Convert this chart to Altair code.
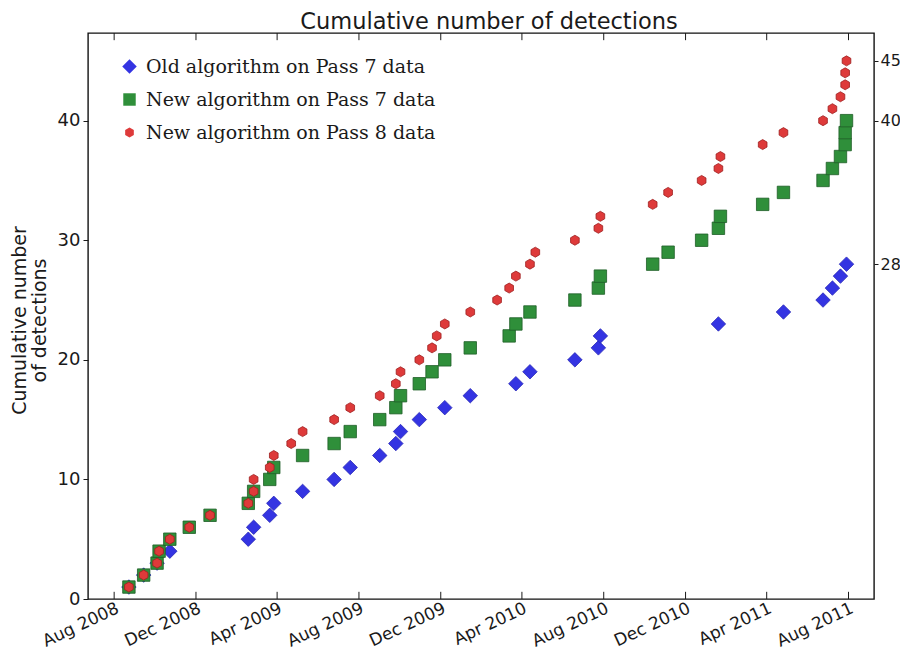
import altair as alt
import pandas as pd

# ---------------- data ----------------
chart_title = "Cumulative number of detections"
series_names = [
    "Old algorithm on Pass 7 data",
    "New algorithm on Pass 7 data",
    "New algorithm on Pass 8 data",
]

old_p7_dates = [
    "2008-08-23", "2008-09-14", "2008-10-04", "2008-10-23", "2009-02-17",
    "2009-02-25", "2009-03-21", "2009-03-27", "2009-05-09", "2009-06-25",
    "2009-07-19", "2009-09-01", "2009-09-25", "2009-10-02", "2009-10-30",
    "2009-12-07", "2010-01-14", "2010-03-23", "2010-04-13", "2010-06-19",
    "2010-07-24", "2010-07-27", "2011-01-19", "2011-04-26", "2011-06-24",
    "2011-07-08", "2011-07-20", "2011-07-29",
]
old_p7_counts = [1, 2, 3, 4, 5, 6, 7, 8, 9, 10, 11, 12, 13, 14, 15, 16, 17, 18,
                 19, 20, 21, 22, 23, 24, 25, 26, 27, 28]

new_p7_dates = [
    "2008-08-23", "2008-09-14", "2008-10-04", "2008-10-07", "2008-10-23",
    "2008-11-21", "2008-12-22", "2009-02-17", "2009-02-25", "2009-03-21",
    "2009-03-27", "2009-05-09", "2009-06-25", "2009-07-19", "2009-09-01",
    "2009-09-25", "2009-10-02", "2009-10-30", "2009-11-18", "2009-12-07",
    "2010-01-14", "2010-03-13", "2010-03-23", "2010-04-13", "2010-06-19",
    "2010-07-24", "2010-07-27", "2010-10-13", "2010-11-05", "2010-12-25",
    "2011-01-19", "2011-01-22", "2011-03-26", "2011-04-26", "2011-06-24",
    "2011-07-08", "2011-07-20", "2011-07-27", "2011-07-27", "2011-07-29",
]
new_p7_counts = [1, 2, 3, 4, 5, 6, 7, 8, 9, 10, 11, 12, 13, 14, 15, 16, 17, 18,
                 19, 20, 21, 22, 23, 24, 25, 26, 27, 28, 29, 30, 31, 32, 33, 34,
                 35, 36, 37, 38, 39, 40]

new_p8_dates = [
    "2008-08-23", "2008-09-14", "2008-10-04", "2008-10-07", "2008-10-23",
    "2008-11-21", "2008-12-22", "2009-02-17", "2009-02-25", "2009-02-25",
    "2009-03-21", "2009-03-27", "2009-04-22", "2009-05-09", "2009-06-25",
    "2009-07-19", "2009-09-01", "2009-09-25", "2009-10-02", "2009-10-30",
    "2009-11-18", "2009-11-25", "2009-12-07", "2010-01-14", "2010-02-23",
    "2010-03-13", "2010-03-23", "2010-04-13", "2010-04-21", "2010-06-19",
    "2010-07-24", "2010-07-27", "2010-10-13", "2010-11-05", "2010-12-25",
    "2011-01-19", "2011-01-22", "2011-03-26", "2011-04-26", "2011-06-24",
    "2011-07-08", "2011-07-20", "2011-07-27", "2011-07-27", "2011-07-29",
]
new_p8_counts = [1, 2, 3, 4, 5, 6, 7, 8, 9, 10, 11, 12, 13, 14, 15, 16, 17, 18,
                 19, 20, 21, 22, 23, 24, 25, 26, 27, 28, 29, 30, 31, 32, 33, 34,
                 35, 36, 37, 38, 39, 40, 41, 42, 43, 44, 45]

x_tick_dates = [
    "2008-08-01", "2008-12-01", "2009-04-01", "2009-08-01", "2009-12-01",
    "2010-04-01", "2010-08-01", "2010-12-01", "2011-04-01", "2011-08-01",
]
y_left_ticks = [0, 10, 20, 30, 40]
y_right_ticks = [28, 40, 45]

# ---------------- styling ----------------
series_fill = ["#3434e2", "#2f8f3a", "#de3a3a"]
series_edge = ["#2a2ab8", "#1e5e27", "#9e2020"]
hexagon = "M0,-1L0.866,-0.5L0.866,0.5L0,1L-0.866,0.5L-0.866,-0.5Z"
series_shapes = ["diamond", "square", hexagon]
series_sizes = [210, 100, 155]

FONT = "DejaVu Sans"
TXT = "#1a1a1a"
PLOT_W, PLOT_H = 786, 566
Y_TOP = 47.33

rows = []
for name, dates, counts in zip(series_names,
                               [old_p7_dates, new_p7_dates, new_p8_dates],
                               [old_p7_counts, new_p7_counts, new_p8_counts]):
    for d, c in zip(dates, counts):
        rows.append({"series": name, "date": d, "count": c})
df = pd.DataFrame(rows)
ticks_df = pd.DataFrame({"date": x_tick_dates})
right_df = pd.DataFrame({"v": y_right_ticks})
title_df = pd.DataFrame({"t": [chart_title]})


def dt(s):
    y, m, d = (int(p) for p in s.split("-"))
    return alt.DateTime(year=y, month=m, date=d, utc=True)


x_scale = alt.Scale(type="utc", domain=[dt("2008-06-23"), dt("2011-09-08")])
y_scale = alt.Scale(domain=[0, Y_TOP], nice=False, zero=False)

x_axis = alt.Axis(
    values=[dt(s) for s in x_tick_dates],
    labelExpr="utcFormat(datum.value, '%b %Y')",
    labelAngle=335, labelAlign="right", labelBaseline="top",
    labelPadding=1, labelFontSize=17, labelFont=FONT, labelColor=TXT,
    labelFlush=False, labelOverlap=False, labelBound=False,
    ticks=False, domain=False, grid=False, title=None,
)

legend = alt.Legend(
    orient="none", legendX=32, legendY=24, title=None,
    labelFont="DejaVu Serif", labelFontSize=19, labelColor=TXT,
    labelOffset=7, labelLimit=0, rowPadding=13, symbolStrokeWidth=0,
)

points = alt.Chart(df).mark_point(filled=True, opacity=1, strokeWidth=0.8).encode(
    x=alt.X("date:T", scale=x_scale, axis=x_axis),
    y=alt.Y("count:Q", scale=y_scale, axis=alt.Axis(
        orient="left", values=y_left_ticks, tickSize=5, tickColor=TXT,
        tickWidth=1, domain=False, grid=False, labelFontSize=18,
        labelFont=FONT, labelColor=TXT, labelPadding=3, labelFlush=False,
        title=["Cumulative number", "of detections"], titleFont=FONT,
        titleFontSize=19, titleFontWeight="normal", titleColor=TXT,
        titlePadding=8, titleLineHeight=20, titleY=PLOT_H / 2 + 4,
    )),
    fill=alt.Fill("series:N", scale=alt.Scale(domain=series_names, range=series_fill), legend=legend),
    shape=alt.Shape("series:N", scale=alt.Scale(domain=series_names, range=series_shapes), legend=legend),
    size=alt.Size("series:N", scale=alt.Scale(domain=series_names, range=series_sizes), legend=legend),
    stroke=alt.Stroke("series:N", scale=alt.Scale(domain=series_names, range=series_edge), legend=None),
)

right_axis = alt.Chart(right_df).mark_rule(opacity=0).encode(
    y=alt.Y("v:Q", scale=y_scale, axis=alt.Axis(
        orient="right", values=y_right_ticks, tickSize=4, tickColor=TXT,
        tickWidth=1, domain=False, grid=False, labelFontSize=16,
        labelFont=FONT, labelColor=TXT, labelPadding=2, labelFlush=False,
        title=None,
    )),
)

bottom_ticks = alt.Chart(ticks_df).mark_rule(color=TXT, strokeWidth=1).encode(
    x=alt.X("date:T", scale=x_scale, axis=x_axis),
    y=alt.YDatum(0, scale=y_scale, axis=None),
    y2=alt.Y2Datum(0.6),
)
top_ticks = alt.Chart(ticks_df).mark_rule(color=TXT, strokeWidth=1).encode(
    x=alt.X("date:T", scale=x_scale, axis=x_axis),
    y=alt.YDatum(Y_TOP, scale=y_scale, axis=None),
    y2=alt.Y2Datum(Y_TOP - 0.6),
)

title_text = alt.Chart(title_df).mark_text(
    font=FONT, fontSize=22.5, color=TXT, align="center", baseline="alphabetic",
).encode(
    text="t:N",
    x=alt.value(PLOT_W / 2 + 8),
    y=alt.value(-4),
)

chart = alt.layer(points, right_axis, bottom_ticks, top_ticks, title_text).resolve_axis(
    y="independent"
).properties(
    width=PLOT_W, height=PLOT_H,
    padding={"left": 80, "top": 25, "right": 26, "bottom": 54},
    autosize=alt.AutoSizeParams(type="none"),
).configure_view(stroke="#111111", strokeWidth=1.4)

chart.save("out.html", embed_options={"renderer": "svg", "actions": False})
